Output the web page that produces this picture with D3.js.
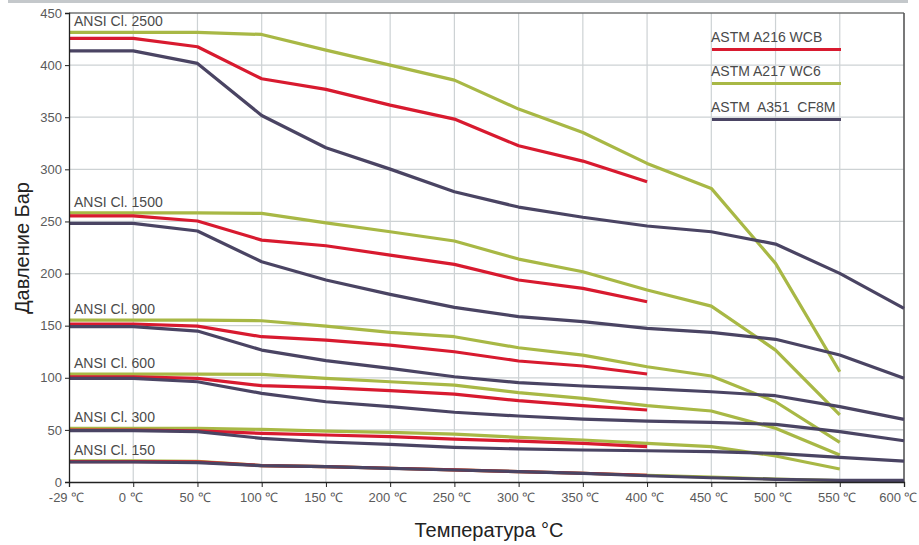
<!DOCTYPE html>
<html><head><meta charset="utf-8">
<script src="https://cdn.jsdelivr.net/npm/d3@7"></script>
<style>
body{margin:0;background:#fff;}
svg{display:block;font-family:"Liberation Sans",Arial,sans-serif;}
</style></head>
<body><svg id="c" width="919" height="545"></svg>
<script>
const temps = ["-29","0","50","100","150","200","250","300","350","400","450","500","550","600"];
const tempLabels = ["-29 ℃","0 ℃","50 ℃","100 ℃","150 ℃","200 ℃","250 ℃","300 ℃","350 ℃","400 ℃","450 ℃","500 ℃","550 ℃","600 ℃"];
const yTicks = [0,50,100,150,200,250,300,350,400,450];
const classNames = ["ANSI Cl. 2500","ANSI Cl. 1500","ANSI Cl. 900","ANSI Cl. 600","ANSI Cl. 300","ANSI Cl. 150"];
const materials = ["ASTM A216 WCB","ASTM A217 WC6","ASTM  A351  CF8M"];

// ASTM A216 WCB (to 400 °C)
const wcb = [
  [425.6,425.6,417.6,386.9,376.7,361.6,348.2,322.6,307.9,288],
  [255.4,255.4,250.4,232.1,226.7,217.7,208.8,193.8,185.8,173],
  [151.6,151.6,149.6,139.4,136.2,131.4,125,116.1,111.3,103.6],
  [101,101,99.5,92.4,90.5,87.6,84.4,78,73.2,69.1],
  [49.9,49.9,49,46.7,45.1,43.5,41.2,39.3,37.1,33.9],
  [19.6,19.6,19.3,15.8,14.8,13.2,11.6,10,8.4,6.5]
];
// ASTM A217 WC6 (to 550 °C)
const wc6 = [
  [431.4,431.4,431.4,429.4,414.4,400,385.6,357.8,335.4,305.7,281.7,209.8,105.8],
  [258.3,258.3,258.3,257.7,248.7,240.1,231.2,213.9,201.7,184.2,168.8,126.6,64.3],
  [155.4,155.4,155.4,154.7,149.6,143.6,139.4,128.8,121.8,110.6,101.7,77,38],
  [103.6,103.6,103.6,103.3,99.5,96.2,93,85.7,80.3,73.2,68.1,51.5,25.9],
  [51.5,51.5,51.5,50.5,48.9,47.6,46,42.8,40.3,37.1,33.9,25,12.5],
  [20.4,20.4,19.8,15.8,14.8,13.2,11.6,10,8.4,6.5,4.6,2.8,1.4]
];
// ASTM A351 CF8M (to 600 °C)
const cf8m = [
  [413.7,413.7,401.6,351.7,320.7,300.2,278.5,263.8,254,245.6,240.1,228.3,200.2,166.6],
  [248.1,248.1,240.8,211.3,193.8,180,167.6,158.6,153.8,147.4,143.6,136.9,121.8,99.5],
  [149,149,144.8,126.6,116.4,109.1,101,95.3,92.1,89.5,86.6,82.8,72.3,60.1],
  [99.5,99.5,96.2,85.1,77,72.3,66.9,63.3,60.4,58.5,57.2,55.3,48.3,39.6],
  [49.2,49.2,48.3,41.9,38.4,36.1,33.3,31.7,30.7,30,29.1,27.5,23.7,20.1],
  [19.2,19.2,18.6,15.7,14.7,13.1,11.5,9.9,8.3,6,4.1,2.6,1.5,1.5]
];

const colors = ["#d81a2f","#a8b845","#4a4463"];
const seriesSets = [wc6, wcb, cf8m]; // draw order: green, red, purple
const setColors = [colors[1], colors[0], colors[2]];

const svg = d3.select("#c");
const L = 69, R = 904, T = 13, B = 482;
const x = d3.scalePoint().domain(temps).range([L, R]);
const y = d3.scaleLinear().domain([0, 450]).range([B, T]);

// top separator
svg.append("line").attr("x1",8).attr("x2",908).attr("y1",1.5).attr("y2",1.5)
  .attr("stroke","#c4c8cb").attr("stroke-width",3);

// grid
const g = svg.append("g");
g.selectAll(".vg").data(temps.slice(1)).join("line")
  .attr("x1",d=>x(d)).attr("x2",d=>x(d)).attr("y1",T).attr("y2",B)
  .attr("stroke","#cdd2d4").attr("stroke-width",1.2);
g.selectAll(".hg").data(yTicks.slice(1)).join("line")
  .attr("x1",L).attr("x2",R).attr("y1",d=>y(d)).attr("y2",d=>y(d))
  .attr("stroke","#cdd2d4").attr("stroke-width",1.2);

// frame top/right
svg.append("line").attr("x1",L).attr("x2",R).attr("y1",T).attr("y2",T).attr("stroke","#444").attr("stroke-width",1.2);
svg.append("line").attr("x1",R).attr("x2",R).attr("y1",T).attr("y2",B).attr("stroke","#555").attr("stroke-width",1.5);

// lines
const line = d3.line().defined(d=>d!=null).x((d,i)=>x(temps[i])).y(d=>y(d));
seriesSets.forEach((set, si) => {
  svg.append("g").selectAll("path").data(set).join("path")
    .attr("d", line).attr("fill","none").attr("stroke", setColors[si])
    .attr("stroke-width",3.2).attr("stroke-linejoin","round");
});

// axes
const xAxis = d3.axisBottom(x).tickSize(5).tickFormat((d,i)=>tempLabels[i]);
const gx = svg.append("g").attr("transform",`translate(0,${B})`).call(xAxis);
gx.select(".domain").attr("stroke","#222").attr("stroke-width",1.3);
gx.selectAll(".tick line").attr("stroke","#222");
gx.selectAll(".tick text").attr("fill","#5a5a5a").attr("font-size",13).attr("dy","0.95em").attr("dx",-3)
  .style("font-family","'Liberation Sans',Arial,sans-serif");
// keep the last label inside the picture
gx.selectAll(".tick text").filter((d,i)=>i===temps.length-1)
  .attr("text-anchor","end").attr("dx",13);

const yAxis = d3.axisLeft(y).tickValues(yTicks).tickSize(4).tickPadding(3);
const gy = svg.append("g").attr("transform",`translate(${L},0)`).call(yAxis);
gy.select(".domain").attr("stroke","#222").attr("stroke-width",1.3);
gy.selectAll(".tick line").attr("stroke","#222");
gy.selectAll(".tick text").attr("fill","#5a5a5a").attr("font-size",13)
  .style("font-family","'Liberation Sans',Arial,sans-serif");

// class labels
svg.append("g").selectAll("text").data(classNames).join("text")
  .attr("x", L+5).attr("y",(d,i)=>y(wc6[i][0]) - 6)
  .attr("font-size",14).attr("fill","#4a4a4a").text(d=>d);

// legend
const lg = svg.append("g");
materials.forEach((m,i)=>{
  const yy = [42,76,112][i];
  lg.append("text").attr("x",711).attr("y",yy).attr("font-size",14).attr("fill","#4a4a4a")
    .style("white-space","pre").text(m);
  lg.append("line").attr("x1",712).attr("x2",841).attr("y1",yy+7.5).attr("y2",yy+7.5)
    .attr("stroke",colors[i]).attr("stroke-width",3.2);
});

// axis titles
svg.append("text").attr("transform","translate(29,248) rotate(-90)").attr("text-anchor","middle")
  .attr("font-size",20).attr("fill","#222").text("Давление Бар");
svg.append("text").attr("x",489).attr("y",537).attr("text-anchor","middle")
  .attr("font-size",20).attr("fill","#222").text("Температура °C");
</script></body></html>
